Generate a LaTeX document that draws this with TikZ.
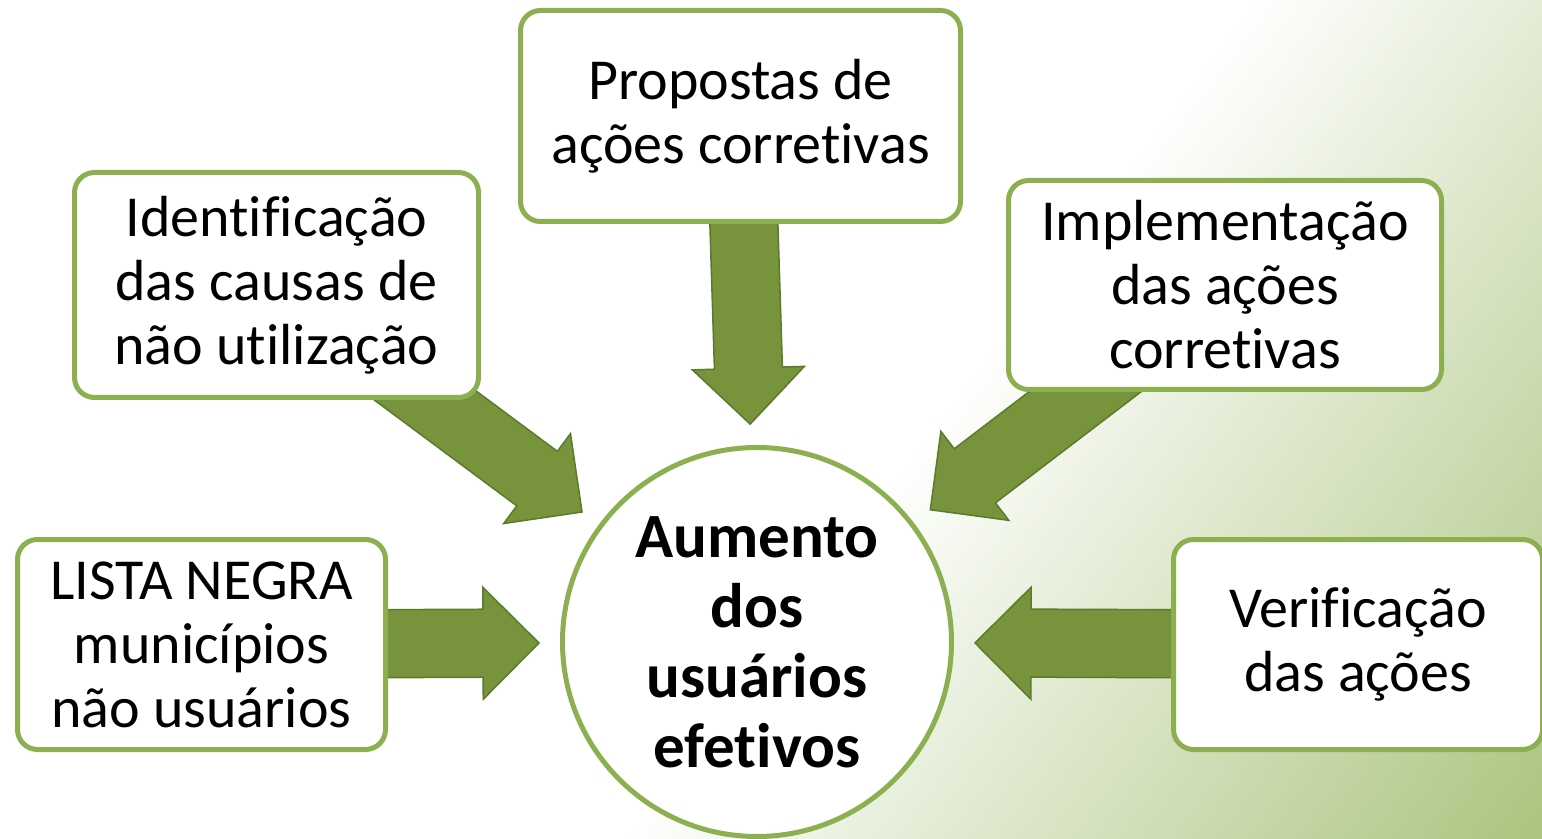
\documentclass[tikz,border=0pt]{standalone}
\usepackage{fontspec}
\setmainfont{Carlito}[Ligatures=NoCommon]
\usetikzlibrary{calc,backgrounds}

\definecolor{boxline}{HTML}{8CAF50}
\definecolor{arrowfill}{HTML}{77933C}
\definecolor{arrowline}{HTML}{5B7A2B}
\definecolor{bggreen}{HTML}{ABC47F}

% block arrow from a box towards the hub
\newcommand{\bigarrow}[2]{%
  \path[bigarrow] let \p1=(#1.center), \p2=($(#2.center)!109pt!(#1.center)$),
      \n1={atan2(\y2-\y1,\x2-\x1)}, \n2={veclen(\x2-\x1,\y2-\y1)} in
    (\p1) ++(\n1+90:17pt) -- ++(\n1:\n2-28pt) -- ++(\n1+90:11pt) -- (\p2)
    -- ++(\n1+225:39.6pt) -- ++(\n1+90:11pt) -- ++(\n1+180:\n2-28pt) -- cycle;}

\begin{document}
\begin{tikzpicture}[x=0.5pt,y=0.5pt]
    \tikzstyle{box}=[draw=boxline,line width=2.5pt,fill=white,rounded corners=10pt,align=center,inner sep=0,font=\fontsize{29}{32}\selectfont]
    \tikzstyle{goal}=[draw=boxline,line width=2.5pt,fill=white,circle,align=center,inner sep=0,minimum size=194.5pt,font=\fontsize{31.5}{35}\selectfont\bfseries]
    \tikzstyle{bigarrow}=[fill=arrowfill,draw=arrowline,line width=0.75pt,line join=miter]

    \useasboundingbox (0,0) rectangle (1542,-839);

    \node[goal] (hub) at (757,-642) {Aumento\\dos\\usuários\\efetivos};

    \node[box,minimum width=220pt,minimum height=105.5pt] (prop) at (740.5,-116) {Propostas de\\ações corretivas};
    \node[box,minimum width=202pt,minimum height=112.5pt] (ident) at (276.5,-285) {Identificação\\das causas de\\não utilização};
    \node[box,minimum width=216.5pt,minimum height=104.5pt] (impl) at (1225,-285) {Implementação\\das ações\\corretivas};
    \node[box,minimum width=184pt,minimum height=105pt] (lista) at (201.5,-644.5) {LISTA NEGRA\\municípios\\não usuários};
    \node[box,minimum width=184.5pt,minimum height=105pt] (verif) at (1358,-644.5) {Verificação\\das ações};

    % background
    \begin{scope}[on background layer]
        \clip (0,0) rectangle (1542,-839);
        \fill[white] (0,0) rectangle (1542,-839);
        \shade[transform canvas={shift={(1542,-839)},rotate=-37},left color=white,right color=bggreen] (-737,-900) rectangle (0,900);
    \end{scope}

    % arrows
    \begin{scope}[on background layer]
        \bigarrow{prop}{hub}
        \bigarrow{ident}{hub}
        \bigarrow{impl}{hub}
        \bigarrow{lista}{hub}
        \bigarrow{verif}{hub}
    \end{scope}
\end{tikzpicture}
\end{document}
